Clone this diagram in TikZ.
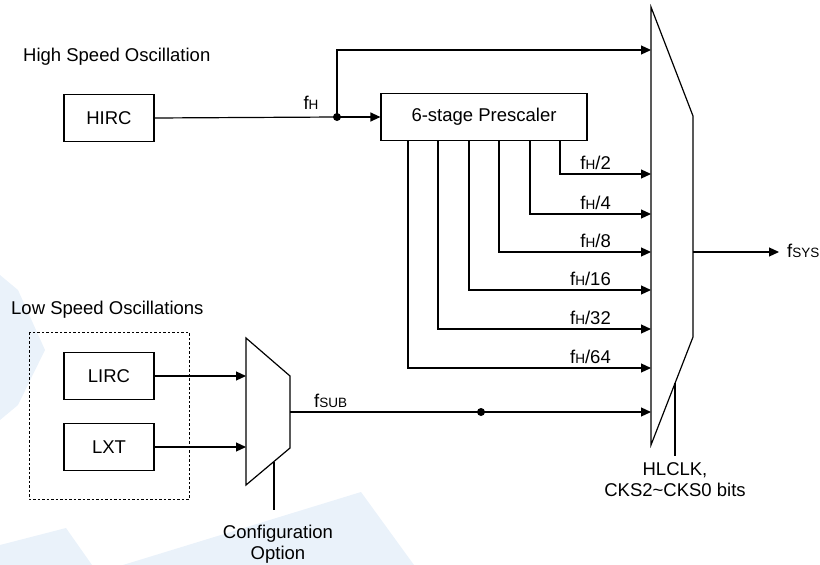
\documentclass[tikz,border=0pt]{standalone}
\usepackage{fontspec}
\setmainfont{Liberation Sans}
\usetikzlibrary{arrows.meta,calc}
\definecolor{wm}{HTML}{EAF2FA}
\newcommand{\fsub}[1]{f\raisebox{-0.8pt}{\fontsize{13.5}{14}\selectfont #1}}
\tikzset{
  x=1pt,y=-1pt,
  every node/.style={font=\fontsize{18.5}{21}\selectfont, inner sep=0pt},
  blk/.style={draw, line width=1.2pt, minimum width=90pt, minimum height=47pt},
  wire/.style={line width=1.2pt},
  arr/.style={wire, -{Triangle[length=10pt,width=9pt]}},
  dot/.style={circle, fill=black, minimum size=8pt, inner sep=0pt},
  lbl/.style={anchor=base east},
}
\begin{document}
\begin{tikzpicture}
\useasboundingbox (0,0) rectangle (820,565);
% faint watermark
\fill[wm] (0,275) -- (18,290) -- (45,350) -- (18,405) -- (0,420) -- cycle;
\fill[wm] (0,545) -- (66,528) -- (92,565) -- (0,565) -- cycle;
\fill[wm] (123,565) -- (361,492) -- (414,565) -- cycle;

% texts
\node[anchor=west] (hso) at (23,57) {High Speed Oscillation};
\node[anchor=west] (lso) at (11,310) {Low Speed Oscillations};

% blocks
\node[blk] (hirc) at (109,118) {HIRC};
\node[blk, minimum width=206pt] (pre) at (484,117) {6-stage Prescaler};
\draw[dashed, line width=0.9pt, dash pattern=on 2.5pt off 2pt] (29,332) rectangle (189,499);
\node[blk] (lirc) at (109,376) {LIRC};
\node[blk] (lxt) at (109,447) {LXT};

% main mux
\coordinate (m1a) at (651,7);
\coordinate (m1b) at (693,116);
\coordinate (m1c) at (693,337);
\coordinate (m1d) at (651,445);
\draw[wire, line join=miter] (m1a) -- (m1b) -- (m1c) -- (m1d) -- cycle;

% sub mux
\coordinate (m2a) at (246,338);
\coordinate (m2b) at (290,376);
\coordinate (m2c) at (290,448);
\coordinate (m2d) at (246,485);
\draw[wire, line join=miter] (m2a) -- (m2b) -- (m2c) -- (m2d) -- cycle;

% fH path
\node[dot] (dh) at (337,117) {};
\draw[wire] (hirc.east) -- (dh.center);
\draw[arr] (dh.center) -- (pre.west |- dh.center);
\coordinate (ftop) at (337,50);
\coordinate (i0) at (651,50);
\draw[arr] (dh.center) -- (ftop) -- (i0);
\node[anchor=base] (fh) at (311,109) {\fsub{H}};

% prescaler taps
\foreach \xx/\yy/\t [count=\k] in {560/174/2, 530/214/4, 499/252/8, 469/290/16, 438/329/32, 408/368/64}{
  \coordinate (tx\k) at (\xx,0);
  \coordinate (ti\k) at (651,\yy);
  \draw[arr] (tx\k |- pre.south) -- (tx\k |- ti\k) -- (ti\k);
  \node[lbl] (l\k) at (611,\yy-5) {\fsub{H}/\t};
}

% low speed inputs
\draw[arr] (lirc.east) -- (lirc.east -| m2a);
\draw[arr] (lxt.east) -- (lxt.east -| m2a);

% fsub
\coordinate (so) at (290,412);
\node[dot] (ds) at (481,412) {};
\coordinate (i7) at (651,412);
\draw[wire] (so) -- (ds.center);
\draw[arr] (ds.center) -- (i7);
\node[anchor=base west] (fs) at (314,407) {\fsub{SUB}};

% output
\coordinate (mo) at (693,252);
\coordinate (oe) at (779,252);
\draw[arr] (mo) -- (oe);
\node[anchor=base west] (fsys) at (787,257) {\fsub{SYS}};

% controls
\coordinate (c1a) at (675,383.3);
\coordinate (c1b) at (675,456);
\draw[wire] (c1a) -- (c1b);
\node[align=center, anchor=north] (hl) at (675,462) {HLCLK,\\CKS2\textasciitilde CKS0 bits};
\coordinate (c2a) at (274,461.5);
\coordinate (c2b) at (274,510);
\draw[wire] (c2a) -- (c2b);
\node[align=center, anchor=north] (cfg) at (278,525) {Configuration\\Option};
\end{tikzpicture}
\end{document}
